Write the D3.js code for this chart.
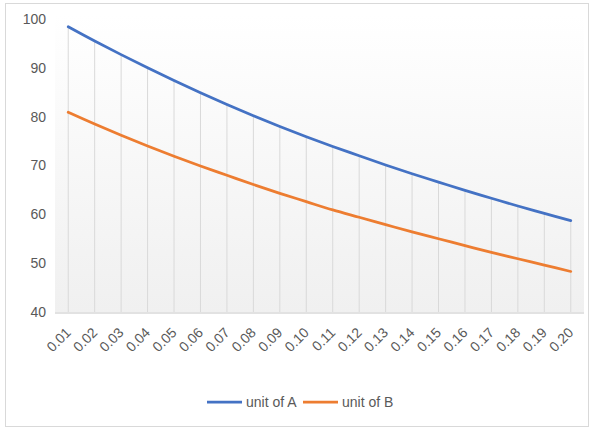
<!DOCTYPE html>
<html>
<head>
<meta charset="utf-8">
<script src="https://cdn.jsdelivr.net/npm/d3@7"></script>
<style>
  html, body { margin: 0; padding: 0; background: #fff; }
  svg { display: block; font-family: "Liberation Sans", Arial, sans-serif; }
</style>
</head>
<body>
<svg id="chart" width="594" height="430"></svg>
<script>
// Categories on the x axis
const categories = ["0.01","0.02","0.03","0.04","0.05","0.06","0.07","0.08","0.09","0.10",
                    "0.11","0.12","0.13","0.14","0.15","0.16","0.17","0.18","0.19","0.20"];
// Series values
const unitA = [98.4, 95.5, 92.7, 90.0, 87.4, 84.9, 82.5, 80.2, 78.0, 75.9,
               73.9, 72.0, 70.1, 68.3, 66.6, 64.9, 63.3, 61.7, 60.2, 58.7];
const unitB = [80.9, 78.5, 76.2, 74.0, 71.9, 69.9, 68.0, 66.1, 64.3, 62.6,
               60.9, 59.4, 57.9, 56.4, 55.0, 53.6, 52.2, 50.9, 49.6, 48.3];
const yTicks = [40, 50, 60, 70, 80, 90, 100];
const seriesNames = ["unit of A", "unit of B"];
const seriesColors = ["#4472C4", "#ED7D31"];

const svg = d3.select("#chart");
const W = 594, H = 430;
const plot = { left: 55, right: 584, top: 15, bottom: 312 };

// Chart frame
svg.append("rect")
  .attr("x", 5.5).attr("y", 3.5).attr("width", W - 11).attr("height", H - 7)
  .attr("fill", "#fff").attr("stroke", "#d9d9d9").attr("stroke-width", 1);

// Plot area gradient fill
const defs = svg.append("defs");
const grad = defs.append("linearGradient").attr("id", "plotBg")
  .attr("x1", 0).attr("y1", 0).attr("x2", 0).attr("y2", 1);
grad.append("stop").attr("offset", "0%").attr("stop-color", "#ffffff");
grad.append("stop").attr("offset", "100%").attr("stop-color", "#f0f0f0");

const x = d3.scaleBand().domain(categories).range([plot.left, plot.right]);
const y = d3.scaleLinear().domain([40, 100]).range([plot.bottom, 19]);

svg.append("rect")
  .attr("x", plot.left).attr("y", plot.top)
  .attr("width", plot.right - plot.left).attr("height", plot.bottom - plot.top)
  .attr("fill", "url(#plotBg)");

const cx = c => x(c) + x.bandwidth() / 2;

// Drop lines from the highest series point to the axis
svg.append("g").selectAll("line")
  .data(categories)
  .join("line")
  .attr("x1", cx).attr("x2", cx)
  .attr("y1", (c, i) => y(Math.max(unitA[i], unitB[i])))
  .attr("y2", y(40))
  .attr("stroke", "#d9d9d9").attr("stroke-width", 1);

// X axis line
svg.append("line")
  .attr("x1", plot.left).attr("x2", plot.right)
  .attr("y1", y(40) + 1).attr("y2", y(40) + 1)
  .attr("stroke", "#d9d9d9").attr("stroke-width", 1.5);

// Y axis labels
const yAxis = d3.axisLeft(y).tickValues(yTicks).tickSize(0).tickPadding(0);
const gy = svg.append("g").attr("transform", "translate(46,0)").call(yAxis);
gy.select(".domain").remove();
gy.selectAll("text").attr("fill", "#595959").attr("font-size", 14)
  .attr("font-family", "'Liberation Sans', Arial, sans-serif");

// X axis labels, rotated
const xAxis = d3.axisBottom(x).tickSize(0).tickPadding(0);
const gx = svg.append("g").attr("transform", `translate(0,${y(40) + 10})`).call(xAxis);
gx.select(".domain").remove();
gx.selectAll("text")
  .attr("fill", "#595959").attr("font-size", 14)
  .attr("font-family", "'Liberation Sans', Arial, sans-serif")
  .attr("text-anchor", "end")
  .attr("dy", "0.35em")
  .attr("transform", "translate(0,8) rotate(-45)");

// Series lines
const series = [unitA, unitB];
const line = d3.line()
  .x((d, i) => cx(categories[i]))
  .y(d => y(d))
  .curve(d3.curveCatmullRom.alpha(0.5));

series.forEach((vals, k) => {
  svg.append("path")
    .datum(vals)
    .attr("d", line)
    .attr("fill", "none")
    .attr("stroke", seriesColors[k])
    .attr("stroke-width", 2.75)
    .attr("stroke-linecap", "round");
});

// Legend
const legend = svg.append("g").attr("transform", "translate(207,402)");
const legendX = [0, 96];
seriesNames.forEach((name, k) => {
  const g = legend.append("g").attr("transform", `translate(${legendX[k]},0)`);
  g.append("line").attr("x1", 0).attr("x2", 35).attr("y1", 0).attr("y2", 0)
    .attr("stroke", seriesColors[k]).attr("stroke-width", 2.75);
  g.append("text").attr("x", 39).attr("y", 0).attr("dy", "0.35em")
    .attr("fill", "#595959").attr("font-size", 14).text(name);
});
</script>
</body>
</html>
